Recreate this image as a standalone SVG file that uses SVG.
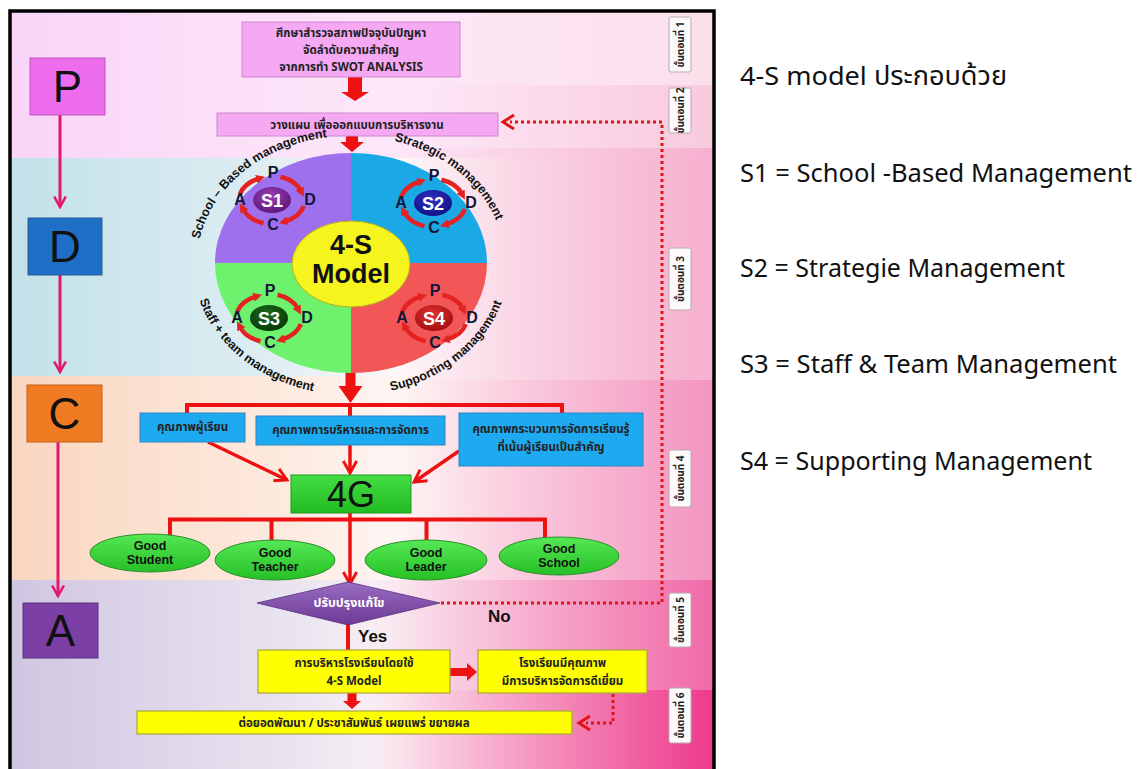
<svg xmlns="http://www.w3.org/2000/svg" width="1140" height="769" viewBox="0 0 1140 769">
<defs>
<style>
.th{font-family:'Noto Sans Thai','Noto Sans','Liberation Sans',sans-serif;font-weight:bold;font-size:11.5px;fill:#222;text-anchor:middle}
.la{font-family:'Liberation Sans',Arial,sans-serif}
.big{font-family:'Liberation Sans',Arial,sans-serif;font-size:44px;fill:#111;text-anchor:middle}
.rt{font-family:'Noto Sans','Noto Sans Thai','Liberation Sans',sans-serif;font-size:26px;fill:#111}
.ln{stroke:#ee1111;stroke-width:4;fill:none}
.ar{stroke:#ee1111;stroke-width:3.5;fill:none;marker-end:url(#ah)}
.pk{stroke:#e3176b;stroke-width:3;fill:none;marker-end:url(#ahp)}
.dt{stroke:#e01515;stroke-width:3;fill:none;stroke-dasharray:3 3}
.blk{fill:#ee1111}
.pinkbox{fill:#f5a9f2;stroke:#cf86cf;stroke-width:1}
.bluebox{fill:#1eaaf0;stroke:#2a86c0;stroke-width:1}
.ybox{fill:#ffff00;stroke:#a9a63c;stroke-width:1.2}
.good{fill:url(#gGood);stroke:#2c8f2c;stroke-width:1}
.gt{font-family:'Liberation Sans',Arial,sans-serif;font-weight:bold;font-size:12.5px;fill:#111;text-anchor:middle}
.step{fill:#fdfafc;stroke:#b9a9b3;stroke-width:1}
.stt{font-family:'Noto Sans Thai','Noto Sans','Liberation Sans',sans-serif;font-weight:bold;font-size:10px;fill:#222;text-anchor:middle}
.ring{stroke:#e52222;stroke-width:4.5;fill:none;marker-end:url(#rh)}
.pl{font-family:'Liberation Sans',Arial,sans-serif;font-weight:bold;font-size:16px;fill:#15153a;text-anchor:middle}
.sl{font-family:'Liberation Sans',Arial,sans-serif;font-weight:bold;font-size:18px;fill:#fff;text-anchor:middle}
.arc{font-family:'Liberation Sans',Arial,sans-serif;font-weight:bold;font-size:12.5px;fill:#111}
</style>
<marker id="ah" viewBox="0 0 12 12" refX="10" refY="6" markerWidth="16" markerHeight="16" markerUnits="userSpaceOnUse" orient="auto">
<path d="M1,1 L10,6 L1,11" fill="none" stroke="#ee1111" stroke-width="2.2"/>
</marker>
<marker id="ahp" viewBox="0 0 12 12" refX="10" refY="6" markerWidth="14" markerHeight="14" markerUnits="userSpaceOnUse" orient="auto">
<path d="M1,1 L10,6 L1,11" fill="none" stroke="#e3176b" stroke-width="2.2"/>
</marker>
<marker id="rh" viewBox="0 0 10 10" refX="3" refY="5" markerWidth="9" markerHeight="9" markerUnits="userSpaceOnUse" orient="auto">
<path d="M0,0 L10,5 L0,10 Z" fill="#e52222"/>
</marker>
<linearGradient id="bP" x1="0" x2="1" y1="0" y2="0"><stop offset="0" stop-color="#f9d5f7"/><stop offset="0.5" stop-color="#fde6f9"/><stop offset="1" stop-color="#fde8f0"/></linearGradient>
<linearGradient id="bD" x1="0" x2="1" y1="0" y2="0"><stop offset="0" stop-color="#c3e1e9"/><stop offset="0.35" stop-color="#dcedf2"/><stop offset="0.55" stop-color="#fdf7f9"/><stop offset="1" stop-color="#fbe0ea"/></linearGradient>
<linearGradient id="bC" x1="0" x2="1" y1="0" y2="0"><stop offset="0" stop-color="#f9d6c0"/><stop offset="0.4" stop-color="#fdebe0"/><stop offset="0.55" stop-color="#fef5f4"/><stop offset="1" stop-color="#fbe2ea"/></linearGradient>
<linearGradient id="bA" x1="0" x2="1" y1="0" y2="0"><stop offset="0" stop-color="#d0c6e1"/><stop offset="0.4" stop-color="#e9e4f0"/><stop offset="0.55" stop-color="#fbf1f5"/><stop offset="1" stop-color="#fbe2ea"/></linearGradient>
<linearGradient id="s1" gradientUnits="userSpaceOnUse" x1="420" x2="713" y1="0" y2="0"><stop offset="0" stop-color="#fbe0ec" stop-opacity="0"/><stop offset="1" stop-color="#fbe0ec"/></linearGradient>
<linearGradient id="s2" gradientUnits="userSpaceOnUse" x1="420" x2="713" y1="0" y2="0"><stop offset="0" stop-color="#f8cadd" stop-opacity="0"/><stop offset="1" stop-color="#f8cadd"/></linearGradient>
<linearGradient id="s3" gradientUnits="userSpaceOnUse" x1="400" x2="713" y1="0" y2="0"><stop offset="0" stop-color="#f6b0cf" stop-opacity="0"/><stop offset="1" stop-color="#f6b0cf"/></linearGradient>
<linearGradient id="s4" gradientUnits="userSpaceOnUse" x1="400" x2="713" y1="0" y2="0"><stop offset="0" stop-color="#f495c0" stop-opacity="0"/><stop offset="1" stop-color="#f495c0"/></linearGradient>
<linearGradient id="s5" gradientUnits="userSpaceOnUse" x1="370" x2="713" y1="0" y2="0"><stop offset="0" stop-color="#f06aa8" stop-opacity="0"/><stop offset="1" stop-color="#f06aa8"/></linearGradient>
<linearGradient id="s6" gradientUnits="userSpaceOnUse" x1="370" x2="713" y1="0" y2="0"><stop offset="0" stop-color="#ee3b8c" stop-opacity="0"/><stop offset="1" stop-color="#ee3b8c"/></linearGradient>
<linearGradient id="gGood" x1="0" x2="0" y1="0" y2="1"><stop offset="0" stop-color="#55e855"/><stop offset="1" stop-color="#26c026"/></linearGradient>
<linearGradient id="g4G" x1="0" x2="0" y1="0" y2="1"><stop offset="0" stop-color="#44dd44"/><stop offset="1" stop-color="#22bb22"/></linearGradient>
<linearGradient id="gDia" x1="0" x2="0" y1="0" y2="1"><stop offset="0" stop-color="#9a6cc2"/><stop offset="1" stop-color="#6c3a95"/></linearGradient>
<radialGradient id="gS1" cx="0.45" cy="0.35" r="0.7"><stop offset="0" stop-color="#9a3fb5"/><stop offset="1" stop-color="#5a1574"/></radialGradient>
<radialGradient id="gS2" cx="0.45" cy="0.35" r="0.7"><stop offset="0" stop-color="#3030c8"/><stop offset="1" stop-color="#0f0f80"/></radialGradient>
<radialGradient id="gS3" cx="0.45" cy="0.35" r="0.7"><stop offset="0" stop-color="#1d6a1d"/><stop offset="1" stop-color="#053805"/></radialGradient>
<radialGradient id="gS4" cx="0.45" cy="0.35" r="0.7"><stop offset="0" stop-color="#e03030"/><stop offset="1" stop-color="#a00d0d"/></radialGradient>
<path id="tlp" d="M 197,263 A 152,127 0 0 1 351,136"/>
<path id="trp" d="M 351,136 A 152,127 0 0 1 505,263"/>
<path id="blp" d="M 193,263 A 158,132 0 0 0 351,395"/>
<path id="brp" d="M 351,395 A 158,132 0 0 0 509,263"/>
<g id="pdca">
<path class="ring" d="M 8.5,-23.2 A 33,24 0 0 1 29,-9"/>
<path class="ring" d="M 31.9,6.2 A 33,24 0 0 1 13,21.5"/>
<path class="ring" d="M -8.5,23.2 A 33,24 0 0 1 -29,9"/>
<path class="ring" d="M -31.9,-6.2 A 33,24 0 0 1 -13,-21.5"/>
<text class="pl" x="1" y="-22">P</text>
<text class="pl" x="38" y="5">D</text>
<text class="pl" x="1" y="30">C</text>
<text class="pl" x="-32" y="5">A</text>
</g>
</defs>

<g id="background">
<rect x="0" y="0" width="1140" height="769" fill="#ffffff"/>
<rect x="11" y="12" width="702" height="146" fill="url(#bP)"/>
<rect x="11" y="158" width="702" height="218" fill="url(#bD)"/>
<rect x="11" y="376" width="702" height="204" fill="url(#bC)"/>
<rect x="11" y="580" width="702" height="189" fill="url(#bA)"/>
<rect x="11" y="12" width="702" height="73" fill="url(#s1)"/>
<rect x="11" y="85" width="702" height="63" fill="url(#s2)"/>
<rect x="11" y="148" width="702" height="232" fill="url(#s3)"/>
<rect x="11" y="380" width="702" height="200" fill="url(#s4)"/>
<rect x="11" y="580" width="702" height="110" fill="url(#s5)"/>
<rect x="11" y="690" width="702" height="79" fill="url(#s6)"/>
<rect x="10" y="11" width="704" height="770" fill="none" stroke="#000" stroke-width="3.5"/>
</g>

<g id="steps">
<g id="step1"><rect class="step" x="669" y="17" width="22" height="55" rx="2"/><text class="stt" transform="translate(680,44.5) rotate(-90)" y="3.5">ขั้นตอนที่ 1</text></g>
<g id="step2"><rect class="step" x="669" y="88" width="22" height="45" rx="2"/><text class="stt" transform="translate(680,110.5) rotate(-90)" y="3.5">ขั้นตอนที่ 2</text></g>
<g id="step3"><rect class="step" x="669" y="248" width="22" height="62" rx="2"/><text class="stt" transform="translate(680,279) rotate(-90)" y="3.5">ขั้นตอนที่ 3</text></g>
<g id="step4"><rect class="step" x="669" y="450" width="22" height="57" rx="2"/><text class="stt" transform="translate(680,478.5) rotate(-90)" y="3.5">ขั้นตอนที่ 4</text></g>
<g id="step5"><rect class="step" x="669" y="593" width="22" height="54" rx="2"/><text class="stt" transform="translate(680,620) rotate(-90)" y="3.5">ขั้นตอนที่ 5</text></g>
<g id="step6"><rect class="step" x="669" y="688" width="22" height="55" rx="2"/><text class="stt" transform="translate(680,715.5) rotate(-90)" y="3.5">ขั้นตอนที่ 6</text></g>
</g>

<g id="connectors">
<line class="pk" x1="60" y1="115" x2="60" y2="207"/>
<line class="pk" x1="60" y1="275" x2="60" y2="372"/>
<line class="pk" x1="58" y1="442" x2="58" y2="596"/>
<polygon class="blk" points="348,77 362,77 362,92 369,92 355,101 341,92 348,92"/>
<polygon class="blk" points="346,136 358,136 358,142 364,142 352,152 340,142 346,142"/>
<polygon class="blk" points="345.5,372 355.5,372 355.5,386 362.5,386 350.5,403 338.5,386 345.5,386"/>
<polyline class="ln" points="187,414 187,405 562,405 562,414"/>
<line class="ln" x1="350" y1="405" x2="350" y2="416"/>
<line class="ar" x1="208" y1="442" x2="287" y2="480"/>
<line class="ar" x1="350" y1="445" x2="350" y2="473"/>
<line class="ar" x1="459" y1="451" x2="414" y2="482"/>
<polyline class="ln" points="170,536 170,519.5 545,519.5 545,538"/>
<line class="ln" x1="271.5" y1="519.5" x2="271.5" y2="541"/>
<line class="ln" x1="426.5" y1="519.5" x2="426.5" y2="541"/>
<line class="ar" x1="350" y1="513" x2="350" y2="584"/>
<line class="ln" x1="348" y1="624" x2="348" y2="650"/>
<polygon class="blk" points="450,668 467,668 467,663 477,672 467,681 467,676 450,676"/>
<polygon class="blk" points="347.5,693 356.5,693 356.5,701 361,701 352,709 343,701 347.5,701"/>
<polyline class="dt" points="441,603 662,603 662,122 510,122"/>
<path d="M514,115 L503,122 L514,129" fill="none" stroke="#e01515" stroke-width="3"/>
<polyline class="dt" points="613,694 613,723 586,723"/>
<path d="M590,716 L579,723 L590,730" fill="none" stroke="#e01515" stroke-width="3"/>
<text class="la" x="488" y="622" font-size="17" font-weight="bold" fill="#111">No</text>
<text class="la" x="358" y="642" font-size="17" font-weight="bold" fill="#111">Yes</text>
</g>

<g id="node-P"><rect x="30" y="58" width="75" height="57" fill="#ee6cee" stroke="#c055c0"/><text class="big" x="67.5" y="102">P</text></g>
<g id="node-D"><rect x="28" y="218" width="74" height="57" fill="#1f6fc6" stroke="#2a5c9a"/><text class="big" x="65" y="262">D</text></g>
<g id="node-C"><rect x="27" y="385" width="75" height="57" fill="#f07b22" stroke="#c06018"/><text class="big" x="64.5" y="429">C</text></g>
<g id="node-A"><rect x="23" y="603" width="75" height="55" fill="#7b3fa5" stroke="#5c2e80"/><text class="big" x="60.5" y="646">A</text></g>

<g id="node-survey"><rect class="pinkbox" x="242" y="22" width="218" height="55"/>
<text class="th" x="351" y="37">ศึกษาสำรวจสภาพปัจจุบันปัญหา</text>
<text class="th" x="351" y="54">จัดลำดับความสำคัญ</text>
<text class="th" x="351" y="71">จากการทำ SWOT ANALYSIS</text></g>

<g id="node-plan"><rect class="pinkbox" x="217" y="113" width="281" height="23"/>
<text class="th" x="357" y="129">วางแผน เพื่อออกแบบการบริหารงาน</text></g>

<g id="node-4S">
<path d="M351,263 L215,263 A136,110 0 0 1 351,153 Z" fill="#9e70ee"/>
<path d="M351,263 L351,153 A136,110 0 0 1 487,263 Z" fill="#1ba9e6"/>
<path d="M351,263 L487,263 A136,110 0 0 1 351,373 Z" fill="#f25656"/>
<path d="M351,263 L351,373 A136,110 0 0 1 215,263 Z" fill="#6ef26e"/>
<ellipse cx="351" cy="264" rx="59" ry="43" fill="#f6f41e" stroke="#b8b020" stroke-width="1"/>
<text class="la" x="351" y="254" font-size="27" font-weight="bold" fill="#111" text-anchor="middle">4-S</text>
<text class="la" x="351" y="283" font-size="27" font-weight="bold" fill="#111" text-anchor="middle">Model</text>
<text class="arc"><textPath href="#tlp" startOffset="50%" text-anchor="middle">School – Based management</textPath></text>
<text class="arc"><textPath href="#trp" startOffset="50%" text-anchor="middle">Strategic management</textPath></text>
<text class="arc"><textPath href="#blp" startOffset="50%" text-anchor="middle">Staff + team management</textPath></text>
<text class="arc"><textPath href="#brp" startOffset="50%" text-anchor="middle">Supporting management</textPath></text>
</g>
<g id="node-S1"><ellipse cx="272" cy="200" rx="19" ry="13" fill="url(#gS1)"/><text class="sl" x="272" y="206.5">S1</text><use href="#pdca" transform="translate(272,200)"/></g>
<g id="node-S2"><ellipse cx="433" cy="203" rx="19" ry="13" fill="url(#gS2)"/><text class="sl" x="433" y="209.5">S2</text><use href="#pdca" transform="translate(433,203)"/></g>
<g id="node-S3"><ellipse cx="269" cy="318" rx="19" ry="13" fill="url(#gS3)"/><text class="sl" x="269" y="324.5">S3</text><use href="#pdca" transform="translate(269,318)"/></g>
<g id="node-S4"><ellipse cx="434" cy="318" rx="19" ry="13" fill="url(#gS4)"/><text class="sl" x="434" y="324.5">S4</text><use href="#pdca" transform="translate(434,318)"/></g>

<g id="node-q1"><rect class="bluebox" x="140" y="413" width="105" height="29"/><text class="th" x="192.5" y="431">คุณภาพผู้เรียน</text></g>
<g id="node-q2"><rect class="bluebox" x="256" y="416" width="189" height="29"/><text class="th" x="350.5" y="434">คุณภาพการบริหารและการจัดการ</text></g>
<g id="node-q3"><rect class="bluebox" x="459" y="413" width="184" height="53"/><text class="th" x="551" y="433">คุณภาพกระบวนการจัดการเรียนรู้</text><text class="th" x="551" y="451">ที่เน้นผู้เรียนเป็นสำคัญ</text></g>

<g id="node-4G"><rect x="291" y="475" width="120" height="38" fill="url(#g4G)" stroke="#1f9a1f"/><text class="la" x="351" y="507" font-size="36" fill="#111" text-anchor="middle">4G</text></g>

<g id="node-gstudent"><ellipse class="good" cx="150" cy="553" rx="60" ry="19"/><text class="gt" x="150" y="550">Good</text><text class="gt" x="150" y="564">Student</text></g>
<g id="node-gteacher"><ellipse class="good" cx="275" cy="560" rx="60" ry="20"/><text class="gt" x="275" y="557">Good</text><text class="gt" x="275" y="571">Teacher</text></g>
<g id="node-gleader"><ellipse class="good" cx="426" cy="560" rx="61" ry="20"/><text class="gt" x="426" y="557">Good</text><text class="gt" x="426" y="571">Leader</text></g>
<g id="node-gschool"><ellipse class="good" cx="559" cy="556" rx="60" ry="19"/><text class="gt" x="559" y="553">Good</text><text class="gt" x="559" y="567">School</text></g>

<g id="node-decision"><polygon points="257,603 348,582 440,603 348,625" fill="url(#gDia)" stroke="#5a3080" stroke-width="0.8"/><text class="th" x="349" y="607" style="fill:#fff;font-size:12.5px">ปรับปรุงแก้ไข</text></g>

<g id="node-use4s"><rect class="ybox" x="258" y="650" width="192" height="43"/><text class="th" x="354" y="667">การบริหารโรงเรียนโดยใช้</text><text class="th" x="354" y="685">4-S Model</text></g>
<g id="node-quality"><rect class="ybox" x="478" y="650" width="169" height="43"/><text class="th" x="562.5" y="667">โรงเรียนมีคุณภาพ</text><text class="th" x="562.5" y="685">มีการบริหารจัดการดีเยี่ยม</text></g>
<g id="node-extend"><rect class="ybox" x="137" y="711" width="435" height="23"/><text class="th" x="354" y="727">ต่อยอดพัฒนา / ประชาสัมพันธ์ เผยแพร่ ขยายผล</text></g>

<g id="legend">
<text class="rt" x="740" y="85" textLength="267" lengthAdjust="spacingAndGlyphs">4-S model ประกอบด้วย</text>
<text class="rt" x="740" y="182" textLength="392" lengthAdjust="spacingAndGlyphs">S1 = School -Based Management</text>
<text class="rt" x="740" y="277" textLength="325" lengthAdjust="spacingAndGlyphs">S2 = Strategie Management</text>
<text class="rt" x="740" y="373" textLength="377" lengthAdjust="spacingAndGlyphs">S3 = Staff &amp; Team Management</text>
<text class="rt" x="740" y="470" textLength="352" lengthAdjust="spacingAndGlyphs">S4 = Supporting Management</text>
</g>
</svg>
